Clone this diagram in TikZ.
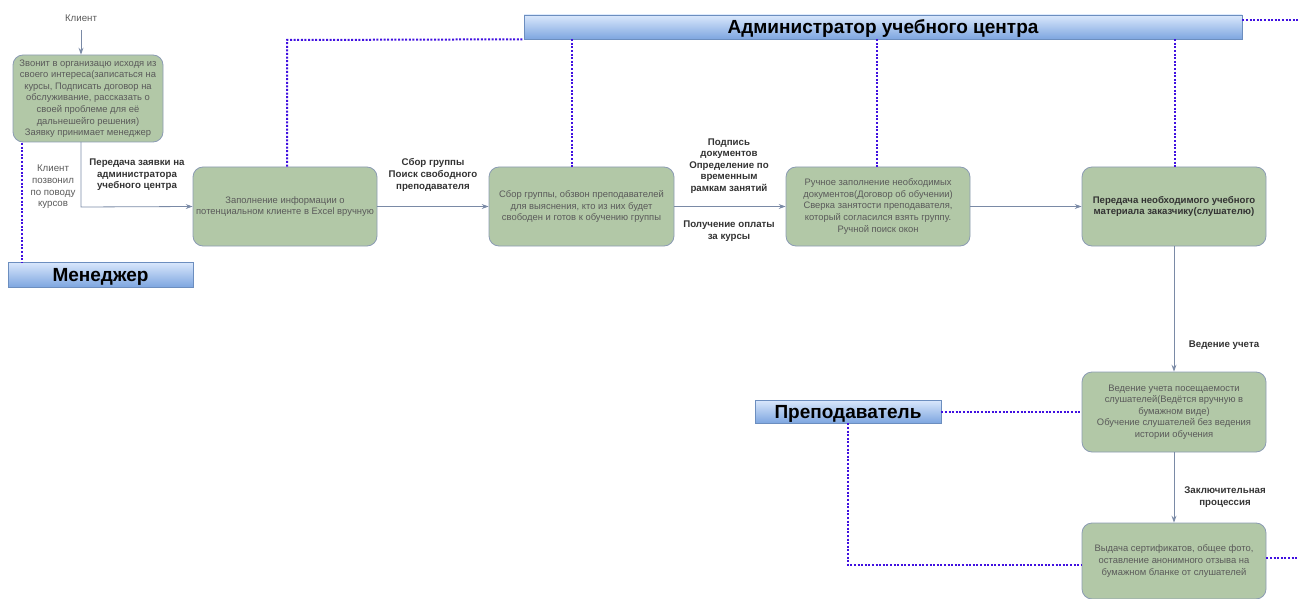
\documentclass[tikz,border=0pt]{standalone}
\usepackage{fontspec}
\setmainfont{Liberation Sans}
\usetikzlibrary{arrows.meta}
\definecolor{boxfill}{HTML}{B2C8A7}
\definecolor{boxline}{HTML}{8B9BB3}
\definecolor{boxtext}{HTML}{5A5A5A}
\definecolor{flow}{HTML}{7A8AA6}
\definecolor{lane}{HTML}{4010E0}
\definecolor{roletop}{HTML}{DAE8FC}
\definecolor{rolebot}{HTML}{7EA6E0}
\definecolor{roleline}{HTML}{6C8EBF}
\definecolor{labeltext}{HTML}{333333}
\tikzset{
  stepbox/.style={draw=boxline, fill=boxfill, rounded corners=10pt, line width=0.8pt,
    text=boxtext, align=center, font=\fontsize{9.4}{11.6}\selectfont, inner sep=0.5pt},
  rolebox/.style={draw=roleline, top color=roletop, bottom color=rolebot, line width=0.6pt,
    font=\fontsize{19}{22}\selectfont\bfseries, text=black, inner sep=0pt, text depth=0pt},
  flowline/.style={draw=flow, line width=0.8pt, -{Stealth[length=7pt,width=5pt,inset=2.5pt]}},
  laneline/.style={draw=lane, line width=2pt, dash pattern=on 2pt off 1.6pt},
  flowlabel/.style={font=\fontsize{9.7}{11.6}\selectfont\bfseries, text=labeltext, align=center, inner sep=0pt},
  plainlabel/.style={font=\fontsize{9.7}{11.6}\selectfont, text=boxtext, align=center, inner sep=0pt}
}
\begin{document}
\begin{tikzpicture}[x=1pt,y=-1pt]
\useasboundingbox (0,0) rectangle (1299,599);

% role headers
\node[rolebox, minimum width=185pt, minimum height=25pt] (mgr) at (100.5,274.5) {Менеджер};
\node[rolebox, minimum width=718pt, minimum height=24pt] (adm) at (883,27) {Администратор учебного центра};
\node[rolebox, minimum width=186pt, minimum height=23pt] (tch) at (848,411.5) {Преподаватель};

% process steps
\node[plainlabel] (client) at (81,18) {Клиент};
\node[stepbox, minimum width=150pt, minimum height=87pt] (s1) at (88,98.5)
  {Звонит в организацю исходя из\\своего интереса(записаться на\\курсы, Подписать договор на\\обслуживание, рассказать о\\своей проблеме для её\\дальнешейго решения)\\Заявку принимает менеджер};
\node[stepbox, minimum width=184pt, minimum height=79pt] (s2) at (285,206.5)
  {Заполнение информации о\\потенциальном клиенте в Excel вручную};
\node[stepbox, minimum width=185pt, minimum height=79pt] (s3) at (581.5,206.5)
  {Сбор группы, обзвон преподавателей\\для выяснения, кто из них будет\\свободен и готов к обучению группы};
\node[stepbox, minimum width=184pt, minimum height=79pt] (s4) at (878,206.5)
  {Ручное заполнение необходимых\\документов(Договор об обучении)\\Сверка занятости преподавателя,\\который согласился взять группу.\\Ручной поиск окон};
\node[stepbox, minimum width=184pt, minimum height=79pt, text=labeltext, font=\fontsize{9.6}{11.6}\selectfont\bfseries] (s5) at (1174,206.5)
  {Передача необходимого учебного\\материала заказчику(слушателю)};
\node[stepbox, minimum width=184pt, minimum height=80pt] (s6) at (1174,412)
  {Ведение учета посещаемости\\слушателей(Ведётся вручную в\\бумажном виде)\\Обучение слушателей без ведения\\истории обучения};
\node[stepbox, minimum width=184pt, minimum height=76pt] (s7) at (1174,561)
  {Выдача сертификатов, общее фото,\\оставление анонимного отзыва на\\бумажном бланке от слушателей};

% flow connectors
\draw[flowline] (client.south |- 0,30) -- (client.south |- s1.north);
\coordinate (bend1) at (81,207);
\draw[flowline] (81,142) -- (bend1) -- (s2.west);
\draw[flowline] (s2.east) -- (s3.west);
\draw[flowline] (s3.east) -- (s4.west);
\draw[flowline] (s4.east) -- (s5.west);
\draw[flowline] (s5.south) -- (s6.north);
\draw[flowline] (s6.south) -- (s7.north);

% connector labels
\node[flowlabel] at (137,175) {Передача заявки на\\администратора\\учебного центра};
\node[plainlabel] at (53,187) {Клиент\\позвонил\\по поводу\\курсов};
\node[flowlabel] at (433,175) {Сбор группы\\Поиск свободного\\преподавателя};
\node[flowlabel] at (729,166) {Подпись\\документов\\Определение по\\временным\\рамкам занятий};
\node[flowlabel] at (729,231) {Получение оплаты\\за курсы};
\node[flowlabel] at (1224,345) {Ведение учета};
\node[flowlabel] at (1225,497) {Заключительная\\процессия};

% responsibility lanes
\coordinate (mgrtop) at (22,262);
\draw[laneline] (22,143) -- (mgrtop);
\coordinate (admcorner) at (287,40);
\draw[laneline] (s2.north -| 287,0) -- (admcorner) -- (adm.south west);
\draw[laneline] (adm.south -| 572,0) -- (s3.north -| 572,0);
\draw[laneline] (adm.south -| 877,0) -- (s4.north -| 877,0);
\draw[laneline] (adm.south -| 1175,0) -- (s5.north -| 1175,0);
\coordinate (admout) at (1299,20);
\draw[laneline] (adm.east |- 0,20) -- (admout);
\draw[laneline] (tch.east) -- (s6.west |- tch.east);
\coordinate (tchcorner) at (848,565);
\draw[laneline] (tch.south) -- (tchcorner) -- (s7.west |- tchcorner);
\coordinate (s7out) at (1299,558);
\draw[laneline] (s7.east |- s7out) -- (s7out);
\end{tikzpicture}
\end{document}
